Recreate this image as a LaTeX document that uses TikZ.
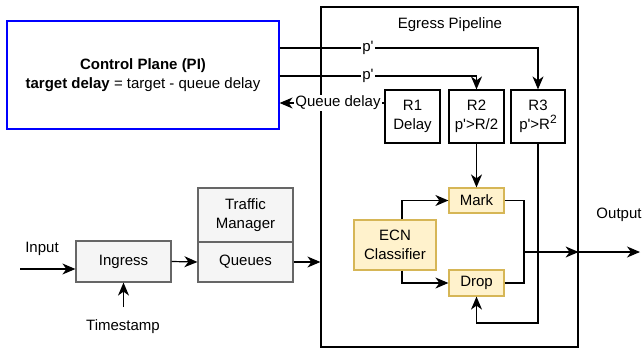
\documentclass[tikz,border=0pt]{standalone}
\usepackage{fontspec}
\setmainfont{Liberation Sans}
\usetikzlibrary{arrows.meta}
\definecolor{grayfill}{HTML}{F5F5F5}
\definecolor{graydraw}{HTML}{666666}
\definecolor{yfill}{HTML}{FFF2CC}
\definecolor{ydraw}{HTML}{D6B656}
\definecolor{cpblue}{HTML}{0000FF}
\newcommand{\pq}{p\textquotesingle}
\tikzset{
  base/.style={line width=1.2pt},
  arr/.style={base,-{Stealth[length=13pt,width=11pt,inset=4pt]}},
  blk/.style={draw,base,rectangle,align=center,inner sep=0pt},
  graybox/.style={blk,fill=grayfill,draw=graydraw},
  ybox/.style={blk,fill=yfill,draw=ydraw},
  lbl/.style={fill=white,inner sep=1pt,align=center},
  txt/.style={inner sep=0pt,align=center}
}
\begin{document}
\begin{tikzpicture}[x=1pt,y=-1pt,font=\fontsize{15}{19.5}\selectfont]
\useasboundingbox (0,0) rectangle (644,348);
% main boxes
\node[blk,draw=cpblue,minimum width=272,minimum height=108] (cp) at (143,75)
  {\textbf{Control Plane (PI)}\\\textbf{target delay} = target - queue delay};
\node[blk,minimum width=257,minimum height=340] (eg) at (449.5,177) {};
\node[txt] (egt) at (450,25) {Egress Pipeline};
\node[blk,minimum width=55,minimum height=53] (r1) at (412.5,116.5) {R1\\Delay};
\node[blk,minimum width=55,minimum height=53] (r2) at (476.5,116.5) {R2\\\pq>R/2};
\node[blk,minimum width=54,minimum height=53] (r3) at (538,116.5) {R3\\\pq>R\raisebox{6pt}{\fontsize{12}{12}\selectfont 2}};
\node[ybox,minimum width=55,minimum height=25] (mark) at (476.5,200.5) {Mark};
\node[ybox,minimum width=55,minimum height=26] (drop) at (476.5,283) {Drop};
\node[ybox,minimum width=82,minimum height=50] (ecn) at (395,245) {ECN\\Classifier};
\node[graybox,minimum width=95,minimum height=41] (ing) at (123.5,261.5) {Ingress};
\node[graybox,minimum width=95,minimum height=54] (tm) at (245.5,215) {Traffic\\Manager};
\node[graybox,minimum width=95,minimum height=40] (qu) at (245.5,262) {Queues};
% coordinates
\coordinate (y1) at (0,48);
\coordinate (y2) at (0,76);
\coordinate (qd) at (0,103);
\coordinate (lp) at (0,323);
\coordinate (bx) at (402,0);
\coordinate (mg) at (524,252);
\coordinate (out) at (640,252);
\coordinate (in) at (20,269);
\coordinate (tsa) at (123.5,307);
% connectors
\draw[arr] (cp.east |- y1) -| (r3.north);
\draw[arr] (cp.east |- y2) -| (r2.north);
\node[lbl] (p1) at (368,48) {\pq};
\node[lbl] (p2) at (368,76) {\pq};
\draw[arr] (r1.west |- qd) -- (cp.east |- qd);
\node[lbl] (qdl) at (338,103) {Queue delay};
\draw[arr] (r2.south) -- (mark.north);
\draw[arr] (r3.south) -- (r3.south |- lp) -| (drop.south);
\draw[arr] (ecn.north -| bx) |- (mark.west);
\draw[arr] (ecn.south -| bx) |- (drop.west);
\draw[base] (mark.east) -| (mg);
\draw[base] (drop.east) -| (mg);
\draw[arr] (mg) -- (eg.east |- mg);
\draw[arr] (eg.east |- mg) -- (out);
\node[txt] (outl) at (619,215) {Output};
\draw[arr] (in) -- (ing.west |- in);
\node[txt] (inl) at (42,249) {Input};
\node[txt] (ts) at (123,327) {Timestamp};
\draw[arr] (tsa) -- (ing.south);
\draw[arr] (ing.east) -- (qu.west);
\draw[arr] (qu.east) -- (eg.west |- qu.east);
\end{tikzpicture}
\end{document}
